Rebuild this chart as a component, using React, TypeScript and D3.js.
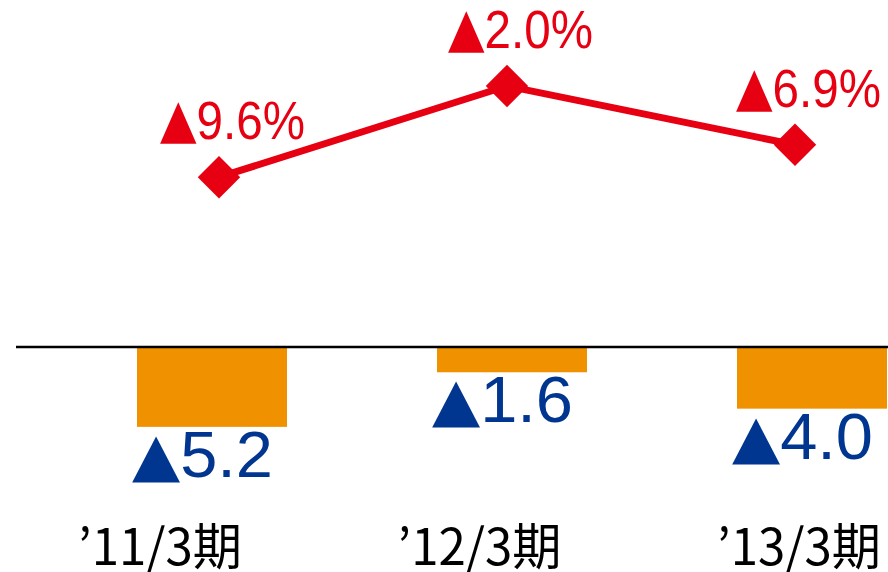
import {useEffect, useRef} from "react";
import * as d3 from "d3";

// fiscal periods
const categories = ["’11/3期", "’12/3期", "’13/3期"];
// orange bars (below zero line)
const barValues = [-5.2, -1.6, -4.0];
const barLabels = ["5.2", "1.6", "4.0"];
// red line (percent)
const lineValues = [-9.6, -2.0, -6.9];
const lineLabels = ["9.6%", "2.0%", "6.9%"];

const RED = "#e60012";
const ORANGE = "#f09200";
const BLUE = "#00368f";

const App = () => {
    const ref = useRef<SVGSVGElement>(null);

    useEffect(() => {
        if (!ref.current) return;
        const svg = d3.select(ref.current);
        svg.selectAll("*").remove();

        const zeroY = 348;

        const x = d3.scaleBand<string>()
            .domain(categories)
            .range([62, 962])
            .paddingInner(0.5)
            .paddingOuter(0.25);

        const xLine = d3.scalePoint<string>()
            .domain(categories)
            .range([219, 795]);

        const xLabel = d3.scalePoint<string>()
            .domain(categories)
            .range([160, 799]);

        const yBar = d3.scaleLinear()
            .domain([0, -6])
            .range([zeroY, zeroY + 91]);

        const yLine = d3.scaleLinear()
            .domain([-10, 0])
            .range([182, 62]);

        // bars
        svg.append("g")
            .selectAll("rect")
            .data(barValues)
            .enter().append("rect")
            .attr("x", (d, i) => x(categories[i])!)
            .attr("y", zeroY)
            .attr("width", x.bandwidth())
            .attr("height", d => yBar(d) - zeroY)
            .attr("fill", ORANGE);

        // zero line
        svg.append("line")
            .attr("x1", 16)
            .attr("x2", 888)
            .attr("y1", zeroY - 1)
            .attr("y2", zeroY - 1)
            .attr("stroke", "#000")
            .attr("stroke-width", 2.5);

        // bar labels
        const bl = svg.append("g")
            .selectAll("text")
            .data(barLabels)
            .enter().append("text")
            .attr("x", (d, i) => x(categories[i])! + x.bandwidth() / 2 - 80)
            .attr("y", (d, i) => yBar(barValues[i]) + 50)
            .attr("font-family", "'Liberation Sans', Arial, sans-serif")
            .attr("font-size", 64)
            .attr("fill", BLUE)
            .attr("textLength", 141)
            .attr("lengthAdjust", "spacingAndGlyphs");
        bl.append("tspan")
            .attr("font-family", "'DejaVu Sans', sans-serif")
            .attr("font-size", 60)
            .attr("dy", -2)
            .text("▲");
        bl.append("tspan").attr("dy", 2).text(d => d);

        // line
        const line = d3.line<number>()
            .x((d, i) => xLine(categories[i])!)
            .y(d => yLine(d));

        svg.append("path")
            .datum(lineValues)
            .attr("d", line)
            .attr("fill", "none")
            .attr("stroke", RED)
            .attr("stroke-width", 7);

        const diamond = d3.symbol().type(d3.symbolSquare).size(900);
        svg.append("g")
            .selectAll("path")
            .data(lineValues)
            .enter().append("path")
            .attr("d", diamond)
            .attr("transform", (d, i) => `translate(${xLine(categories[i])}, ${yLine(d)}) rotate(45)`)
            .attr("fill", RED);

        // line labels
        const ll = svg.append("g")
            .selectAll("text")
            .data(lineLabels)
            .enter().append("text")
            .attr("x", (d, i) => xLine(categories[i])! + 14 - 73)
            .attr("y", (d, i) => yLine(lineValues[i]) - 38)
            .attr("font-family", "'Liberation Sans Narrow', 'Liberation Sans', Arial, sans-serif")
            .attr("font-size", 54)
            .attr("fill", RED)
            .attr("textLength", 145)
            .attr("lengthAdjust", "spacingAndGlyphs");
        ll.append("tspan")
            .attr("font-family", "'DejaVu Sans', sans-serif")
            .attr("font-size", 54)
            .attr("dy", -2)
            .text("▲");
        ll.append("tspan").attr("dy", 2).text(d => d);

        // category labels
        svg.append("g")
            .selectAll("text")
            .data(categories)
            .enter().append("text")
            .attr("x", d => xLabel(d)!)
            .attr("y", 565)
            .attr("text-anchor", "middle")
            .attr("font-family", "'Noto Sans CJK JP', sans-serif")
            .attr("font-weight", 400)
            .attr("font-size", 50)
            .attr("fill", "#000")
            .attr("textLength", 164)
            .attr("lengthAdjust", "spacingAndGlyphs")
            .text(d => d);
    }, []);

    return (
        <svg
            ref={ref}
            width={888}
            height={572}
            style={{position: "absolute", left: 0, top: 0, background: "#fff"}}/>
    );
};

export default App;
